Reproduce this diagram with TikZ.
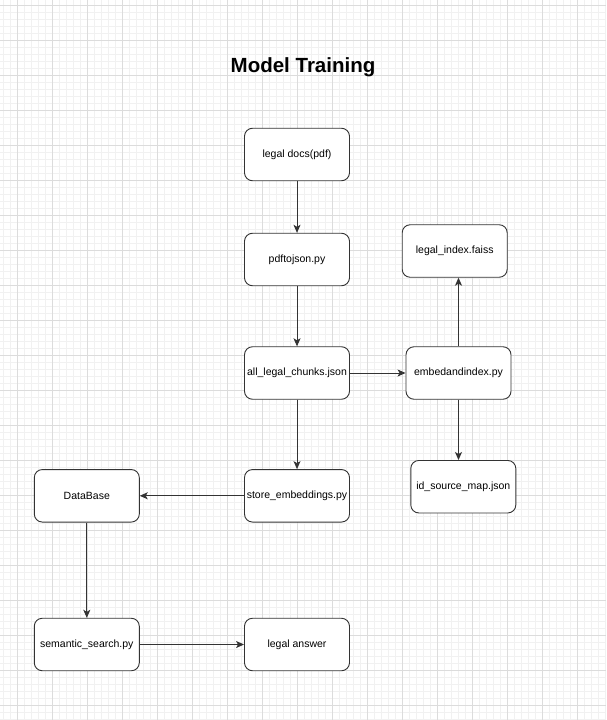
\documentclass[tikz,border=0pt]{standalone}
\usepackage{fontspec}
\setmainfont{Liberation Sans}
\usetikzlibrary{arrows.meta}
\definecolor{gridminor}{HTML}{F1F1F1}
\definecolor{gridmajor}{HTML}{DCDCDC}
\definecolor{boxline}{HTML}{333333}
\tikzset{
  box/.style={draw=boxline, line width=0.9pt, rounded corners=8pt, fill=white,
    minimum width=105pt, minimum height=52.5pt, inner sep=1pt,
    font=\fontsize{10.5}{12}\selectfont, text=black},
  conn/.style={draw=boxline, line width=0.9pt, -{Stealth[length=8pt,width=7pt,inset=2pt]}},
  gminor/.style={draw=gridminor, line width=0.8pt},
  gmajor/.style={draw=gridmajor, line width=0.9pt}
}
\begin{document}
\begin{tikzpicture}[x=1pt,y=-1pt]
\useasboundingbox (0,0) rectangle (606,720);
\fill[white] (0,0) rectangle (606,720);
% grid
\foreach \i in {0,...,86} {\draw[gminor] ({3.3+7*\i},0) -- ++(0,720);}
\foreach \i in {0,...,102} {\draw[gminor] (0,{5.7+7*\i}) -- ++(606,0);}
\foreach \i in {0,...,17} {\draw[gmajor] ({17.3+35*\i},0) -- ++(0,720);}
\foreach \i in {0,...,20} {\draw[gmajor] (0,{5.7+35*\i}) -- ++(606,0);}
% title
\node[font=\fontsize{20.5}{24}\selectfont\bfseries] (title) at (303,67) {Model Training};
% nodes
\node[box] (docs) at (297,154.5) {legal docs(pdf)};
\node[box] (pdf2json) at (297,259.5) {pdftojson.py};
\node[box] (chunks) at (297,373) {all\_legal\_chunks.json};
\node[box] (embed) at (458.5,373) {embedandindex.py};
\node[box] (faiss) at (454.7,251) {legal\_index.faiss};
\node[box] (idmap) at (463.3,486.7) {id\_source\_map.json};
\node[box] (store) at (297,495.8) {store\_embeddings.py};
\node[box] (db) at (86.8,495.8) {DataBase};
\node[box] (sem) at (86.8,644.5) {semantic\_search.py};
\node[box] (answer) at (297,644.5) {legal answer};
% connectors
\draw[conn] (docs) -- (pdf2json);
\draw[conn] (pdf2json) -- (chunks);
\draw[conn] (chunks) -- (embed);
\draw[conn] (embed.north) -- (embed.north |- faiss.south);
\draw[conn] (embed.south) -- (embed.south |- idmap.north);
\draw[conn] (chunks) -- (store);
\draw[conn] (store) -- (db);
\draw[conn] (db) -- (sem);
\draw[conn] (sem) -- (answer);
\end{tikzpicture}
\end{document}
